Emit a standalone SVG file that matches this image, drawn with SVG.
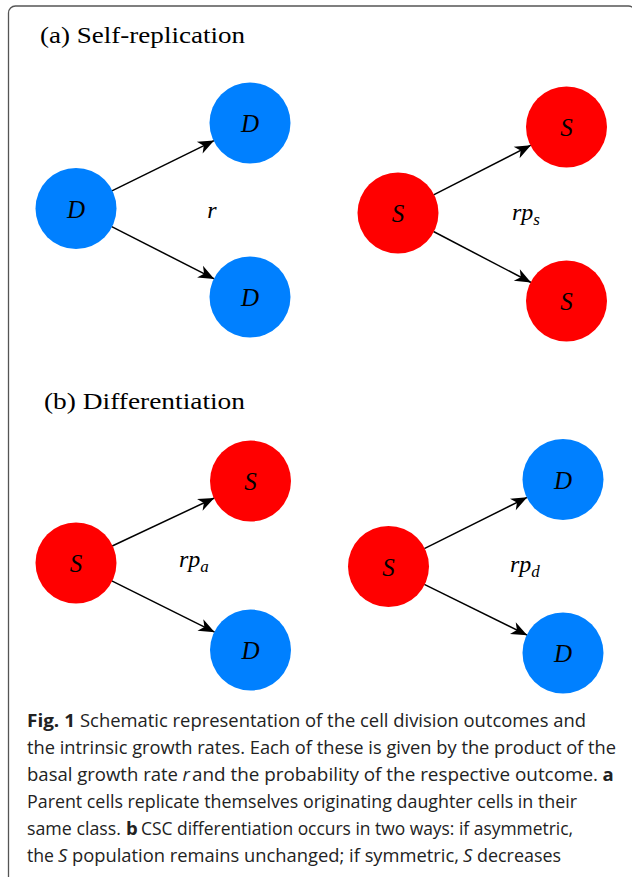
<svg xmlns="http://www.w3.org/2000/svg" width="632" height="877" viewBox="0 0 632 877">
<style>
.frame{fill:none;stroke:#555;stroke-width:1.3}
.title{font-family:"Liberation Serif","DejaVu Serif",serif;font-size:23px;fill:#000}
.blue{fill:#0080FF}
.red{fill:#FF0000}
.lbl{font-family:"Liberation Serif","DejaVu Serif",serif;font-style:italic;font-size:25px;fill:#000;text-anchor:middle}
.rate{font-family:"Liberation Serif","DejaVu Serif",serif;font-style:italic;font-size:24px;fill:#000}
.sub{font-size:17px}
.edge{stroke:#000;stroke-width:1.5;fill:none;marker-end:url(#arr)}
.cap{font-family:"Open Sans","Noto Sans",sans-serif;font-size:18.5px;fill:#222}
.b{font-weight:bold}
.i{font-style:italic}
</style>
<defs>
<marker id="arr" viewBox="-17 -8 18 16" refX="0" refY="0" markerWidth="18" markerHeight="16" markerUnits="userSpaceOnUse" orient="auto">
<path d="M0,0 L-16,-6.5 L-11.5,0 L-16,6.5 Z" fill="#000"/>
</marker>
</defs>
<rect class="frame" x="8.5" y="6" width="627" height="900" rx="7"/>
<text class="title" x="40" y="43" textLength="205" lengthAdjust="spacingAndGlyphs">(a) Self-replication</text>
<text class="title" x="44" y="409" textLength="201" lengthAdjust="spacingAndGlyphs">(b) Differentiation</text>

<g id="connectors">
<line class="edge" x1="111.9" y1="190.9" x2="214.1" y2="140.6"/>
<line class="edge" x1="111.7" y1="226.6" x2="214.3" y2="278.9"/>
<line class="edge" x1="433.6" y1="194.8" x2="530.9" y2="145.2"/>
<line class="edge" x1="433.5" y1="231.5" x2="531.0" y2="282.5"/>
<line class="edge" x1="112.2" y1="546.0" x2="214.3" y2="498.0"/>
<line class="edge" x1="111.8" y1="580.8" x2="214.7" y2="632.2"/>
<line class="edge" x1="424.3" y1="548.7" x2="527.2" y2="497.3"/>
<line class="edge" x1="424.3" y1="584.3" x2="527.2" y2="635.2"/>
</g>

<g id="a_D_parent"><circle class="blue" cx="76" cy="208.5" r="40.5"/><text class="lbl" x="76" y="217.5">D</text></g>
<g id="a_D_top"><circle class="blue" cx="250" cy="123" r="40.5"/><text class="lbl" x="250" y="132">D</text></g>
<g id="a_D_bottom"><circle class="blue" cx="250" cy="297" r="40.5"/><text class="lbl" x="250" y="306">D</text></g>
<g id="a_rate_r"><text class="rate" x="212" y="218" text-anchor="middle">r</text></g>

<g id="a_S_parent"><circle class="red" cx="398" cy="213" r="40.5"/><text class="lbl" x="398" y="222">S</text></g>
<g id="a_S_top"><circle class="red" cx="566.5" cy="127" r="40.5"/><text class="lbl" x="566.5" y="136">S</text></g>
<g id="a_S_bottom"><circle class="red" cx="566.5" cy="301" r="40.5"/><text class="lbl" x="566.5" y="310">S</text></g>
<g id="a_rate_rps"><text class="rate" x="512" y="220">rp<tspan class="sub" dy="5">s</tspan></text></g>

<g id="b_S_parent_left"><circle class="red" cx="76" cy="563" r="40.5"/><text class="lbl" x="76" y="572">S</text></g>
<g id="b_S_top_left"><circle class="red" cx="250.5" cy="481" r="40.5"/><text class="lbl" x="250.5" y="490">S</text></g>
<g id="b_D_bottom_left"><circle class="blue" cx="250.5" cy="650" r="40.5"/><text class="lbl" x="250.5" y="659">D</text></g>
<g id="b_rate_rpa"><text class="rate" x="179" y="567">rp<tspan class="sub" dy="5">a</tspan></text></g>

<g id="b_S_parent_right"><circle class="red" cx="388.5" cy="566.5" r="40.5"/><text class="lbl" x="388.5" y="575.5">S</text></g>
<g id="b_D_top_right"><circle class="blue" cx="563" cy="479.5" r="40.5"/><text class="lbl" x="563" y="488.5">D</text></g>
<g id="b_D_bottom_right"><circle class="blue" cx="563" cy="653" r="40.5"/><text class="lbl" x="563" y="662">D</text></g>
<g id="b_rate_rpd"><text class="rate" x="510" y="572">rp<tspan class="sub" dy="5">d</tspan></text></g>

<g id="caption">
<text class="cap b" x="27" y="727" textLength="48" lengthAdjust="spacingAndGlyphs">Fig. 1</text>
<text class="cap" x="80" y="727" textLength="506" lengthAdjust="spacingAndGlyphs">Schematic representation of the cell division outcomes and</text>
<text class="cap" x="27" y="754" textLength="589" lengthAdjust="spacingAndGlyphs">the intrinsic growth rates. Each of these is given by the product of the</text>
<text class="cap" x="27" y="781" textLength="151" lengthAdjust="spacingAndGlyphs">basal growth rate</text>
<text class="cap i" x="182.5" y="781">r</text>
<text class="cap" x="192" y="781" textLength="406" lengthAdjust="spacingAndGlyphs">and the probability of the respective outcome.</text>
<text class="cap b" x="602.5" y="781">a</text>
<text class="cap" x="27" y="808" textLength="550" lengthAdjust="spacingAndGlyphs">Parent cells replicate themselves originating daughter cells in their</text>
<text class="cap" x="27" y="835" textLength="94" lengthAdjust="spacingAndGlyphs">same class.</text>
<text class="cap b" x="126" y="835">b</text>
<text class="cap" x="141" y="835" textLength="432" lengthAdjust="spacingAndGlyphs">CSC differentiation occurs in two ways: if asymmetric,</text>
<text class="cap" x="27" y="862" textLength="27" lengthAdjust="spacingAndGlyphs">the</text>
<text class="cap i" x="58" y="862">S</text>
<text class="cap" x="72" y="862" textLength="387" lengthAdjust="spacingAndGlyphs">population remains unchanged; if symmetric,</text>
<text class="cap i" x="463" y="862">S</text>
<text class="cap" x="477" y="862" textLength="84" lengthAdjust="spacingAndGlyphs">decreases</text>
</g>
</svg>
